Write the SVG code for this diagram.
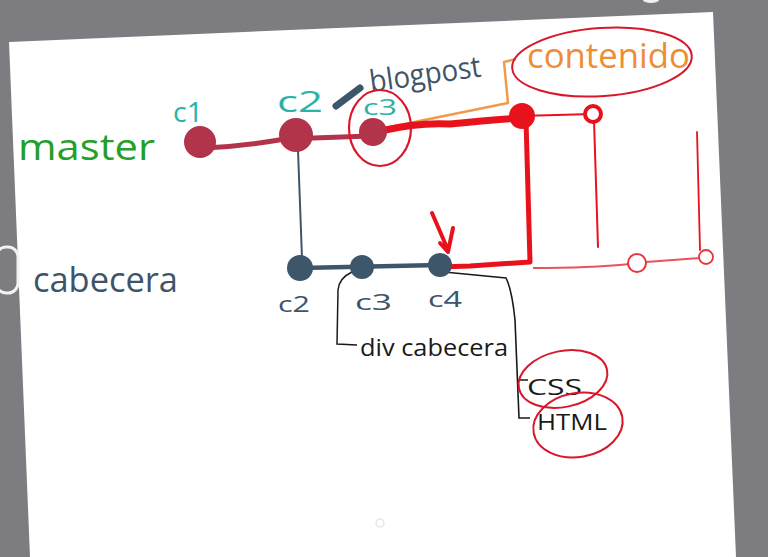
<svg xmlns="http://www.w3.org/2000/svg" width="768" height="557" viewBox="0 0 768 557">
<style>
.hand{font-family:"Open Sans","Liberation Sans",sans-serif;font-weight:400}
.teal{fill:#2cb3a6}
.slate{fill:#3e5468}
.blk{fill:#1a1a1a}
.mnode{fill:#b2344b}
.snode{fill:#3e566a}
.red{stroke:#e8121c;fill:none;stroke-linecap:round;stroke-linejoin:round}
.ring{stroke:#d8182a;fill:none}
</style>
<rect width="768" height="557" fill="#7d7c80"/>
<polygon points="9,42 713,12 736,557 30,557" fill="#ffffff"/>
<rect x="-4" y="247" width="22" height="46" rx="10" fill="none" stroke="#f2f2f2" stroke-width="3"/>
<ellipse cx="651" cy="0" rx="8" ry="3" fill="#f0f0f0"/>
<circle cx="380" cy="523" r="4" fill="none" stroke="#e6e4ec" stroke-width="1.5"/>

<g id="labels">
<text class="hand" x="18" y="160" font-size="36" font-weight="600" fill="#22a02a" textLength="137" lengthAdjust="spacingAndGlyphs">master</text>
<text class="hand slate" x="33" y="292" font-size="34" font-weight="600" textLength="145" lengthAdjust="spacingAndGlyphs">cabecera</text>
<text class="hand slate" x="371" y="92" font-size="30" textLength="112" lengthAdjust="spacingAndGlyphs" transform="rotate(-8 371 92)">blogpost</text>
<text class="hand" x="527" y="68" font-size="34" font-weight="600" fill="#f08c34" textLength="163" lengthAdjust="spacingAndGlyphs">contenido</text>
<text class="hand blk" x="360" y="356" font-size="24" textLength="148" lengthAdjust="spacingAndGlyphs">div cabecera</text>
<text class="hand blk" x="527" y="395" font-size="22" font-weight="700" textLength="55" lengthAdjust="spacingAndGlyphs">CSS</text>
<text class="hand blk" x="537" y="430" font-size="22" font-weight="700" textLength="70" lengthAdjust="spacingAndGlyphs">HTML</text>
</g>

<g id="connectors">
<path d="M205,148 Q245,146 285,139 L370,136" stroke="#b2344b" stroke-width="5" fill="none" stroke-linecap="round"/>
<path d="M298,150 L302,258" stroke="#3e566a" stroke-width="2" fill="none"/>
<path d="M300,268 L440,265" stroke="#3e566a" stroke-width="4.5" fill="none"/>
<path d="M336,106 L360,88" stroke="#3e566a" stroke-width="7" stroke-linecap="round" fill="none"/>
<path d="M385,128 L508,103 L504,62 L516,59" stroke="#f39a4a" stroke-width="2.5" fill="none" stroke-linejoin="round"/>
<path class="red" d="M380,131 Q420,122 450,124 Q490,120 520,118" stroke-width="7"/>
<path class="red" d="M526,120 L530,262 L470,266 L440,267" stroke-width="5"/>
<path class="red" d="M520,116 L593,114" stroke-width="2"/>
<path class="red" d="M594,120 L598,247" stroke-width="2"/>
<path class="red" d="M697,132 L700,250" stroke-width="1.8"/>
<path d="M533,268 Q590,268 630,264 M646,262 L700,258" stroke="#e8545c" stroke-width="2" fill="none"/>
<path class="red" d="M432,213 L448,250 M453,228 L448,252 L440,243" stroke-width="4"/>
<path d="M352,272 Q339,278 338,290 L337,344 L357,345" stroke="#1a1a1a" stroke-width="1.5" fill="none"/>
<path d="M444,272 L506,278 Q512,290 515,320 L519,418 L530,418 M518,380 L528,380" stroke="#1a1a1a" stroke-width="1.6" fill="none"/>
<ellipse class="ring" cx="380" cy="128" rx="31" ry="38" stroke-width="2.2"/>
<ellipse class="ring" cx="602" cy="62" rx="90" ry="34" stroke-width="2" transform="rotate(-4 602 62)"/>
<ellipse class="ring" cx="563" cy="379" rx="45" ry="28" stroke-width="2" transform="rotate(-12 563 379)"/>
<ellipse class="ring" cx="578" cy="425" rx="45" ry="32" stroke-width="2" transform="rotate(-10 578 425)"/>
</g>

<g id="c1"><circle class="mnode" cx="200" cy="142" r="16"/><text class="hand teal" x="173" y="122" font-size="28" textLength="30" lengthAdjust="spacingAndGlyphs">c1</text></g>
<g id="c2"><circle class="mnode" cx="296" cy="135" r="17"/><text class="hand teal" x="277" y="112" font-size="30" textLength="46" lengthAdjust="spacingAndGlyphs">c2</text></g>
<g id="c3"><circle class="mnode" cx="373" cy="132" r="14"/><text class="hand teal" x="363" y="115" font-size="22" textLength="34" lengthAdjust="spacingAndGlyphs">c3</text></g>
<g id="m4"><circle cx="522" cy="116" r="13" fill="#e8121c"/></g>
<g id="m5"><circle cx="593" cy="114" r="8" fill="#ffffff" stroke="#e8121c" stroke-width="4"/></g>
<g id="r1"><circle cx="637" cy="263" r="9" fill="#ffffff" stroke="#e8343c" stroke-width="2"/></g>
<g id="r2"><circle cx="706" cy="257" r="7" fill="#ffffff" stroke="#e8343c" stroke-width="1.8"/></g>
<g id="cab-c2"><circle class="snode" cx="300" cy="268" r="13"/><text class="hand slate" x="278" y="312" font-size="22" textLength="32" lengthAdjust="spacingAndGlyphs">c2</text></g>
<g id="cab-c3"><circle class="snode" cx="362" cy="267" r="12"/><text class="hand slate" x="355" y="310" font-size="22" textLength="37" lengthAdjust="spacingAndGlyphs">c3</text></g>
<g id="cab-c4"><circle class="snode" cx="440" cy="265" r="12"/><text class="hand slate" x="428" y="307" font-size="22" textLength="34" lengthAdjust="spacingAndGlyphs">c4</text></g>
</svg>
